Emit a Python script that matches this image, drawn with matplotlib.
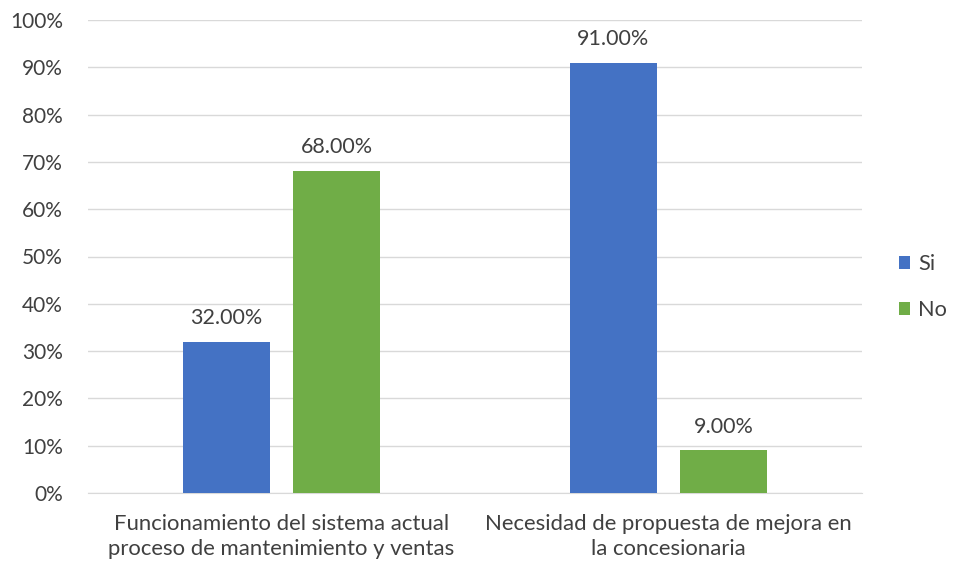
import matplotlib.pyplot as plt
import numpy as np

plt.rcParams['font.family'] = ['Lato', 'DejaVu Sans']

# Datos del gráfico
categorias = ['Funcionamiento del sistema actual\nproceso de mantenimiento y ventas',
              'Necesidad de propuesta de mejora en\nla concesionaria']
si = [32.0, 91.0]
no = [68.0, 9.0]

x = np.arange(len(categorias))
ancho = 0.225
desp = 0.143

fig = plt.figure(figsize=(9.58, 5.67), dpi=100)
ax = fig.add_axes([88 / 958, 74 / 567, 774 / 958, 473 / 567])

b1 = ax.bar(x - desp, si, ancho, color='#4472C4', label='Si', zorder=3)
b2 = ax.bar(x + desp, no, ancho, color='#70AD47', label='No', zorder=3)

for barras in (b1, b2):
    for b in barras:
        ax.annotate(f'{b.get_height():.2f}%',
                    (b.get_x() + b.get_width() / 2, b.get_height()),
                    xytext=(0, 10), textcoords='offset points',
                    ha='center', va='bottom', fontsize=15.5, color='#404040')

ax.set_xlim(-0.5, 1.5)
ax.set_ylim(0, 100)
ax.set_yticks(range(0, 101, 10))
ax.set_yticklabels([f'{v}%' for v in range(0, 101, 10)])
ax.set_xticks(x)
ax.set_xticklabels(categorias, fontsize=15.9, linespacing=1.35)
ax.tick_params(axis='both', length=0, colors='#404040')
ax.tick_params(axis='y', pad=18, labelsize=15)
ax.tick_params(axis='x', pad=15)
ax.grid(axis='y', color='#D9D9D9', linewidth=1, zorder=0)
for s in ['top', 'right', 'left']:
    ax.spines[s].set_visible(False)
ax.spines['bottom'].set_color('#D9D9D9')

ax.legend(loc='center left', bbox_to_anchor=(1.022, 0.435), frameon=False,
          fontsize=15.7, handlelength=0.5, handleheight=0.5, labelspacing=1.2,
          handletextpad=0.4, labelcolor='#404040')

plt.savefig('out.png', dpi=100)
